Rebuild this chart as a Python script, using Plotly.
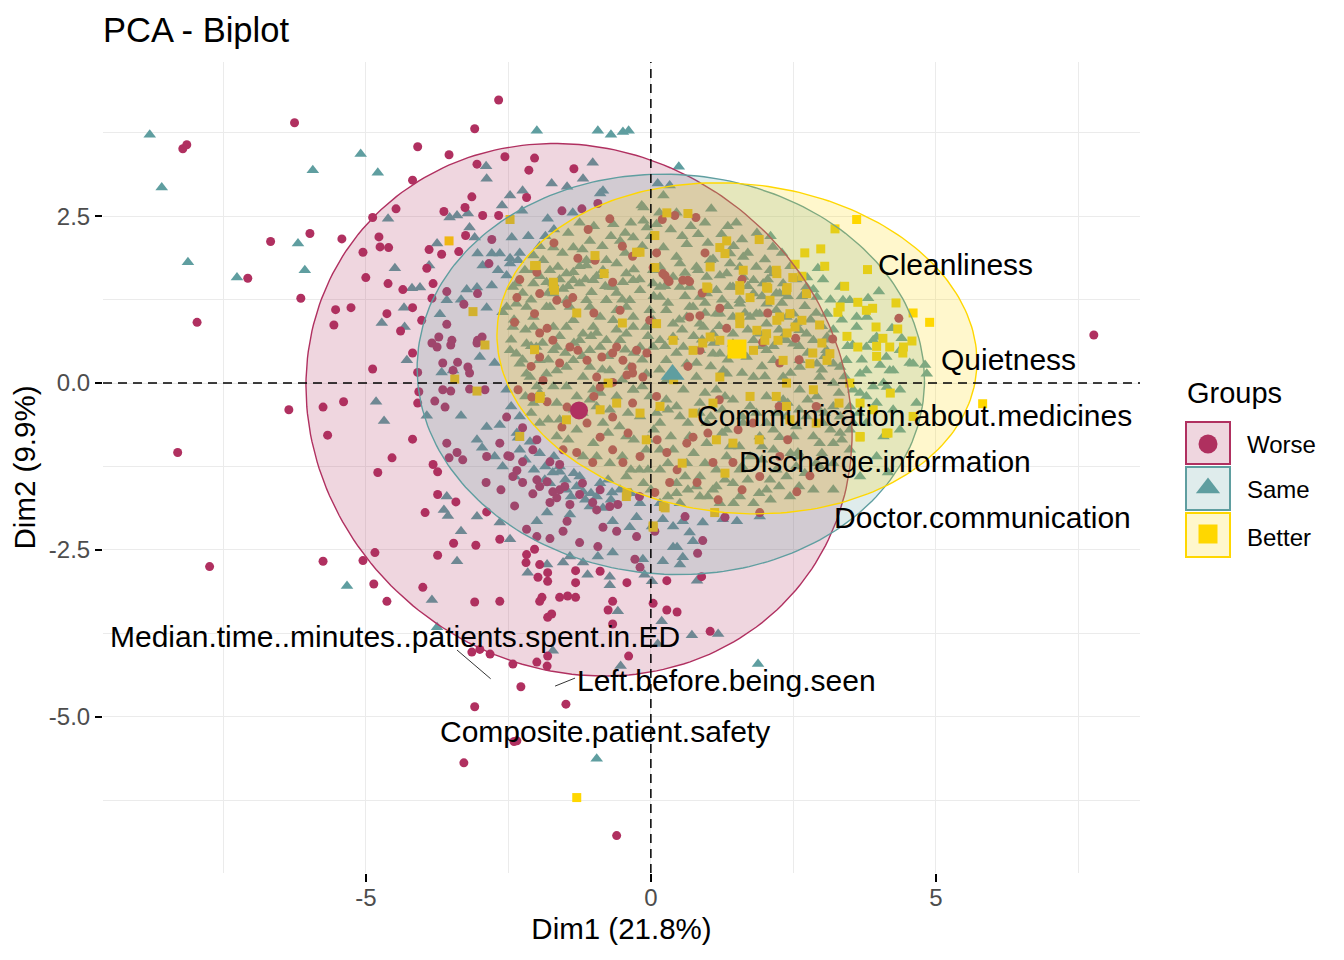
import numpy as np
import plotly.graph_objects as go

groups = ["Worse", "Same", "Better"]
colors = ["#B03060", "#5F9EA0", "#FFD700"]
fills = ["rgba(176,48,96,0.2)", "rgba(95,158,160,0.2)", "rgba(255,215,0,0.2)"]
symbols = ["circle", "triangle-up", "square"]

worse = [
    (-6.25, 3.90), (-8.21, 3.51), (-8.14, 3.57), (-2.67, 4.24), (-3.09, 3.81), (-4.09, 3.54), (-3.54, 3.42),
    (-2.56, 3.39), (-2.04, 3.37), (-3.05, 3.28), (-2.14, 3.19), (-4.18, 3.04), (-3.14, 2.79), (-4.47, 2.61),
    (-4.88, 2.48), (-3.63, 2.57), (-3.26, 2.63), (-2.95, 2.51), (-2.67, 2.51), (-2.18, 2.78), (-6.67, 2.12),
    (-5.98, 2.24), (-5.42, 2.16), (-4.77, 2.19), (-4.75, 2.04), (-4.60, 2.03), (-5.05, 1.96), (-3.25, 2.21),
    (-2.79, 2.15), (-3.89, 2.00), (-3.67, 1.93), (-3.37, 1.97), (-2.84, 1.79), (-7.07, 1.57), (-6.14, 1.27),
    (-7.96, 0.91), (-5.00, 1.58), (-4.61, 1.49), (-3.93, 1.72), (-3.82, 1.49), (-4.35, 1.40), (-3.58, 1.37),
    (-3.04, 1.34), (-3.28, 1.18), (-3.84, 1.27), (-5.53, 1.10), (-5.26, 1.13), (-5.56, 0.87), (-4.63, 1.04),
    (-4.18, 1.13), (-4.39, 0.78), (-4.02, 0.94), (-3.58, 0.88), (-3.72, 0.69), (-3.84, 0.60), (-3.75, 0.54),
    (-3.51, 0.57), (-3.49, 0.64), (-3.05, 0.60), (-3.04, 0.64), (-4.18, 0.45), (-4.88, 0.21), (-4.09, 0.16),
    (-3.65, 0.30), (-3.39, 0.31), (-3.21, 0.24), (-4.07, -0.13), (-3.65, -0.10), (-3.51, -0.12), (-3.18, -0.09),
    (-2.91, -0.10), (-6.35, -0.40), (-5.75, -0.36), (-5.39, -0.28), (-4.09, -0.30), (-3.79, -0.27), (-3.61, -0.36),
    (-5.67, -0.78), (-4.18, -0.84), (-2.53, -0.51), (-2.25, -0.67), (-2.65, -0.90), (-2.47, -1.10), (-2.25, -1.18),
    (-8.30, -1.04), (-4.54, -1.12), (-4.79, -1.34), (-3.58, -0.90), (-3.40, -1.04), (-3.30, -1.15), (-3.82, -1.22),
    (-3.74, -1.33), (-2.88, -1.10), (-3.54, -1.12), (-2.51, -1.09), (-2.35, -1.31), (-2.07, -1.00), (-1.77, -1.18),
    (-1.60, -1.22), (-2.89, -1.49), (-2.63, -1.60), (-2.39, -1.84), (-2.07, -1.66), (-2.00, -1.45), (-1.82, -1.48),
    (-1.72, -1.63), (-1.60, -1.60), (-1.65, -1.72), (-1.51, -1.55), (-1.42, -1.82), (-1.25, -1.67), (-0.89, -1.60),
    (-1.02, -1.79), (-0.58, -1.82), (-3.42, -1.78), (-3.96, -1.94), (-3.74, -1.67), (-2.88, -1.93), (-2.65, -2.34),
    (-3.07, -2.43), (-3.46, -2.40), (-3.74, -2.58), (-2.18, -2.19), (-2.00, -2.30), (-2.18, -2.57), (-2.04, -2.49),
    (-1.77, -2.33), (-1.54, -2.22), (-1.47, -2.07), (-1.25, -2.39), (-0.93, -2.45), (-0.84, -2.16), (-0.60, -2.22),
    (-0.25, -2.30), (0.07, -2.22), (0.91, -2.36), (0.82, -2.55), (1.30, -2.01), (-0.28, -2.64), (-0.19, -2.76),
    (-0.89, -2.82), (-1.32, -2.81), (-1.32, -2.99), (-0.42, -2.99), (0.28, -2.96), (0.89, -2.90), (-2.19, -2.69),
    (-1.98, -2.91), (-1.81, -2.97), (-1.95, -2.72), (-1.81, -2.84), (-5.75, -2.67), (-5.05, -2.66), (-4.84, -2.54),
    (-4.86, -3.01), (-4.63, -3.27), (-4.00, -3.06), (-3.09, -3.28), (-2.65, -3.27), (-1.95, -3.27), (-1.91, -3.21),
    (-1.60, -3.21), (-1.46, -3.19), (-1.32, -3.21), (-1.81, -3.51), (-1.74, -3.46), (-0.67, -3.27), (-0.75, -3.40),
    (-0.67, -3.61), (0.04, -3.30), (0.28, -3.40), (0.46, -3.43), (1.04, -3.72), (-0.39, -4.09), (-3.14, -4.03),
    (-3.00, -3.99), (-2.82, -4.06), (-2.42, -4.21), (-2.00, -4.18), (-1.82, -4.24), (-1.81, -4.09), (-2.28, -4.55),
    (-3.09, -4.85), (-1.49, -4.81), (-2.40, -5.37), (-2.35, -5.36), (-3.28, -5.69), (-0.60, -6.78), (7.77, 0.72),
    (-7.74, -2.75), (2.79, -1.39), (2.56, -1.63), (1.91, -1.94), (4.35, 0.97), (3.19, 0.66), (1.21, 1.12),
    (1.33, 0.82), (0.86, 1.01), (0.68, 0.99), (1.96, 0.61), (2.26, 0.30), (0.86, 0.49), (2.54, 0.67), (0.21, 1.64),
    (0.30, 1.54), (0.56, 1.54), (0.65, 1.54), (0.04, 1.73), (-0.02, 0.94), (0.42, 2.51), (0.79, 2.48),
    (-1.28, 1.87), (-0.98, 1.84), (-0.32, 1.90), (0.25, 1.61), (0.32, 1.52), (0.68, 1.52), (-2.39, 0.91),
    (-2.04, 1.04), (-1.82, 0.82), (-1.47, 1.19), (-1.95, 1.34), (-1.37, 1.28), (-1.72, 0.64), (-1.42, 0.54),
    (-1.12, 0.34), (-0.86, 0.39), (-0.67, 0.45), (-0.49, 0.34), (-0.33, 0.24), (-0.95, 0.09), (-0.67, 0.01),
    (-0.42, 0.12), (-0.25, 0.49), (-0.14, 0.09), (-2.33, -0.10), (-2.09, -0.21), (-1.82, -0.28), (-1.47, -0.36),
    (-1.56, -0.66), (-1.12, -0.60), (-0.89, -0.81), (-0.67, -0.51), (-0.32, -0.30), (-0.67, -1.00), (-0.49, -1.19),
    (-0.19, -1.10), (-1.02, -1.19), (-1.30, -1.04), (-1.54, -1.00), (0.11, -0.85), (0.28, -1.04), (0.46, -1.30),
    (0.63, -0.90), (0.74, -0.81), (1.09, -1.19), (1.53, -0.70), (1.79, -0.60), (1.44, -1.19), (1.91, -1.40),
    (2.26, -1.10), (1.18, -1.75), (0.81, -1.49), (0.33, -1.49), (0.07, -1.64), (-2.42, -1.40), (-2.25, -1.49),
    (-1.95, -1.55), (-1.77, -1.79), (-0.95, -1.90), (-0.72, -1.85), (-0.72, 2.46), (-0.93, 2.69), (-1.56, 2.58),
    (-1.21, 2.61), (-1.35, 3.21), (-0.67, 1.51), (-0.54, 1.09), (-1.28, 0.49), (-1.95, 0.75), (-1.95, 0.39),
    (-1.65, 1.24), (-1.89, 0.04), (-0.89, -0.06), (-0.32, 0.15), (-0.07, 0.45), (-0.60, 0.54), (-2.35, 1.28),
    (-2.00, 1.66), (-2.96, 0.69), (-3.47, 0.19), (-3.18, 0.15),
    (-0.50, 2.05), (0.10, 1.95), (0.95, 1.95), (1.60, 1.55), (2.05, 1.05), (2.60, 0.35), (2.90, -0.35),
    (2.40, -0.85), (1.20, -0.25), (0.40, 0.15), (0.10, -0.20), (-0.40, -0.75), (-1.00, -0.20), (-1.60, 0.30),
    (-2.10, 0.25), (-2.30, 1.55), (-1.70, 2.10), (-1.00, 1.05), (0.65, 0.25), (1.00, -0.75), (1.60, -1.60),
    (0.60, -2.00), (-0.20, -1.70), (-1.20, -1.50), (-2.00, -0.85), (-1.10, 2.30), (0.20, 2.45), (1.45, 0.45),
    (2.25, -0.35), (0.90, 1.35),
]

same = [
    (-8.79, 3.72), (-8.58, 2.93), (-5.93, 3.19), (-5.09, 3.43), (-4.79, 3.15), (-2.00, 3.78), (-2.89, 3.25),
    (-2.88, 3.06), (-4.61, 2.46), (-3.53, 2.48), (-3.40, 2.51), (-3.21, 2.54), (-2.26, 2.58), (-2.47, 2.81),
    (-2.25, 2.88), (-2.61, 2.66), (-6.19, 2.09), (-3.18, 2.33), (-3.09, 2.18), (-2.44, 2.18), (-3.75, 2.09),
    (-3.04, 1.94), (-2.79, 1.94), (-2.65, 1.94), (-2.47, 1.87), (-2.33, 1.84), (-2.95, 1.76), (-8.12, 1.81),
    (-7.26, 1.58), (-6.07, 1.69), (-4.49, 1.72), (-3.89, 1.76), (-4.19, 1.42), (-4.05, 1.43), (-3.58, 1.24),
    (-3.23, 1.40), (-3.33, 1.25), (-3.05, 1.43), (-2.79, 1.46), (-4.33, 1.13), (-4.72, 0.90), (-4.32, 0.84),
    (-3.70, 1.03), (-2.88, 1.13), (-3.00, 0.39), (-2.74, 0.30), (-2.60, 1.06), (-4.28, 0.34), (-3.67, 0.16),
    (-3.47, 0.19), (-4.82, -0.28), (-4.68, -0.57), (-3.93, -0.49), (-3.33, -0.49), (-2.88, -0.66), (-2.65, -0.63),
    (-3.05, -0.85), (-2.96, -0.97), (-2.33, -0.82), (-2.12, -0.88), (-2.60, -1.25), (-2.39, -1.40), (-2.74, -1.10),
    (-1.86, -1.45), (-1.72, -1.34), (-1.60, -1.33), (-1.30, -1.55), (-1.19, -1.63), (-0.95, -1.70), (-0.84, -1.87),
    (-0.68, -1.64), (-3.58, -1.70), (-3.63, -1.90), (-3.56, -1.99), (-3.05, -2.00), (-2.65, -2.09), (-2.47, -2.34),
    (-3.33, -2.22), (-3.40, -2.67), (-2.00, -2.07), (-1.82, -1.94), (-1.42, -1.97), (-1.07, -1.85), (-0.67, -2.07),
    (-0.37, -2.16), (-0.25, -2.01), (0.02, -2.15), (0.21, -2.04), (0.39, -2.15), (0.56, -2.07), (0.68, -2.24),
    (0.91, -2.09), (1.26, -2.04), (1.51, -2.07), (0.74, -2.37), (-1.42, -2.60), (-1.19, -2.69), (-0.93, -2.60),
    (-0.67, -2.54), (-1.11, -2.87), (-0.72, -2.90), (-0.14, -2.64), (0.21, -2.67), (0.46, -2.46), (0.56, -2.61),
    (0.81, -2.96), (-2.16, -2.84), (-1.82, -2.72), (-1.54, -2.69), (-0.72, -3.03), (-0.11, -2.87), (0.02, -2.97),
    (-5.33, -3.04), (-3.84, -3.25), (-3.75, -3.66), (-0.58, -3.42), (0.72, -3.78), (1.18, -3.76), (0.12, -3.91),
    (0.19, -3.57), (-1.72, -4.01), (-0.53, -4.24), (-0.95, -5.63), (1.88, -4.21), (0.51, -2.72), (1.91, -2.00),
    (0.39, -2.46), (4.14, -0.06), (3.67, -0.15), (4.16, -1.34), (2.96, -0.90), (3.32, -0.75), (2.58, -1.04),
    (2.26, -0.81), (2.09, -1.45), (0.49, 3.24), (0.12, 2.99), (0.33, 2.96), (1.86, 2.25), (2.14, 2.04),
    (2.93, 1.72), (3.02, 1.55), (2.74, 1.58), (4.00, 1.37), (3.37, 1.24), (3.49, 1.24), (3.81, 1.27), (3.61, 0.99),
    (3.79, 0.99), (3.09, 1.04), (4.23, 0.82), (4.40, 0.67), (4.02, 0.27), (4.54, 0.30), (4.81, 0.27), (3.54, 0.57),
    (3.09, 0.69), (-0.93, 3.78), (-0.70, 3.72), (-0.49, 3.76), (-0.39, 3.78), (-1.02, 3.30), (-1.19, 3.06),
    (-1.74, 2.99), (-1.47, 2.94), (-0.84, 2.88), (-2.68, 1.69), (-2.53, 1.61), (-1.37, 2.55), (-1.81, 2.46),
    (-0.89, 2.84), (-0.16, 2.66), (-0.07, 2.33),
    (-2.47, 1.79), (-2.21, 1.69), (-1.89, 1.84), (-1.63, 1.74), (-1.36, 1.66), (-1.13, 1.76), (-0.84, 1.69),
    (-0.60, 1.79), (-0.43, 1.64), (-1.83, 1.51), (-1.54, 1.41), (-1.25, 1.49), (-1.04, 1.36), (-0.72, 1.44),
    (-0.49, 1.51), (-0.19, 1.39), (0.04, 1.69), (0.51, 1.79), (0.80, 1.74), (1.09, 1.86), (1.39, 1.79),
    (1.62, 1.89), (1.85, 1.74), (2.15, 1.64), (2.32, 1.49), (0.86, 1.29), (1.15, 1.39), (1.44, 1.44), (1.80, 1.34),
    (2.03, 1.19), (2.38, 0.99), (2.61, 0.79), (2.85, 0.64), (3.08, 0.49), (0.63, 0.99), (0.86, 0.89), (1.09, 0.74),
    (1.44, 0.99), (1.74, 0.99), (2.03, 0.89), (2.32, 0.69), (2.61, 0.34), (2.91, 0.29), (3.20, 0.29), (3.43, 0.34),
    (3.78, 0.54), (3.96, 0.69), (4.13, 0.39), (4.37, 0.49), (4.60, 0.29), (4.84, 0.14), (-2.47, 0.49),
    (-2.18, 0.59), (-1.95, 0.34), (-1.65, 0.19), (-1.36, 0.34), (-1.19, 0.09), (-0.89, -0.15), (-0.60, -0.20),
    (-0.31, -0.10), (-0.02, -0.20), (0.27, -0.25), (0.57, -0.10), (0.86, -0.30), (1.15, -0.10), (1.44, -0.25),
    (1.74, -0.35), (2.03, -0.20), (2.32, -0.25), (2.61, -0.10), (2.91, -0.20), (3.20, -0.35), (3.55, -0.10),
    (3.78, -0.20), (-2.30, -0.50), (-1.95, -0.60), (-1.65, -0.80), (-1.30, -0.70), (-1.01, -0.90), (-0.72, -1.20),
    (-0.43, -1.40), (-0.13, -1.50), (0.16, -1.30), (0.45, -1.50), (0.63, -1.20), (0.86, -1.40), (1.15, -1.30),
    (1.44, -1.50), (1.74, -1.10), (1.91, -0.80), (2.15, -1.00), (2.50, -0.80), (2.85, -0.80), (3.20, -0.90),
    (3.49, -0.70), (3.20, -1.20), (2.85, -1.60), (2.38, -1.40), (2.03, -1.60), (1.56, -1.70), (1.21, -1.80),
    (0.86, -1.70), (0.51, -1.80), (0.16, -1.80), (-0.19, -1.80), (-0.54, -1.60), (-0.89, -1.50), (-1.25, -1.40),
    (-1.60, -1.25), (-1.95, -1.05), (-2.30, -1.00), (-2.53, -0.10), (-2.12, 0.09), (-1.48, -0.05), (-1.19, 0.74),
    (-0.89, 0.99), (-0.60, 1.09), (-0.31, 0.99), (-0.02, 1.09), (0.27, 1.09), (0.39, 0.69), (-2.06, 0.99),
    (-2.36, 1.19), (-1.77, 1.14), (-1.48, 0.84), (4.08, 0.00), (4.37, -0.10), (4.25, -0.40), (4.66, -0.30),
    (3.78, -0.60), (4.08, -0.80), (4.37, -0.70), (3.49, -1.00), (3.96, -1.10), (3.67, -1.40), (3.20, -1.60),
    (-2.36, 1.49), (-2.06, 1.69), (-1.71, 1.34), (-1.42, 1.14), (-1.07, 1.14), (-0.78, 1.24), (-0.37, 1.24),
    (-0.08, 0.84), (0.16, 1.44), (0.39, 1.59), (0.68, 1.44), (0.98, 1.59), (1.33, 1.64), (1.62, 1.59),
    (1.97, 1.49), (2.20, 1.34), (0.74, 1.14), (1.21, 1.04), (1.56, 1.19), (1.91, 1.04), (2.20, 1.09), (2.50, 0.59),
    (1.44, 0.59), (1.80, 0.64), (2.03, 0.49), (0.86, 0.49), (1.21, 0.44), (0.63, 0.29), (0.27, 0.34), (0.04, 0.54),
    (-0.43, 0.74), (-0.78, 0.64), (-1.07, 0.49), (-1.71, 0.49), (-2.30, 0.29), (-2.06, -0.30), (-1.71, -0.05),
    (-1.07, -0.25), (-0.72, -0.40), (-0.19, -0.50), (0.16, -0.60), (0.51, -0.50), (0.98, -0.60), (1.33, -0.70),
    (1.62, -0.60), (2.03, -0.60), (2.38, -0.50), (2.73, -0.50), (3.02, -0.60), (3.32, -0.50), (3.20, 0.00),
    (2.96, 0.09), (3.67, 0.14), (2.32, 0.09), (1.80, 0.09), (1.33, 0.14), (0.80, 0.09), (0.27, 0.04),
    (-0.08, -1.00), (-0.43, -0.80), (-0.84, -0.60), (-1.19, -1.10), (-1.48, -1.60), (-1.77, -1.50), (0.16, -1.00),
    (0.39, -1.00), (1.33, -1.10), (1.56, -1.30), (2.61, -1.10), (2.96, -1.25), (2.44, -1.70), (1.80, -1.80),
    (1.09, -1.60), (0.68, -0.80), (0.98, -0.90), (1.39, -0.95), (3.49, -0.35), (3.96, -0.30), (3.78, 0.19),
    (4.25, 0.19), (0.22, 2.81), (-0.13, 2.63), (0.83, 2.23), (1.24, 2.23), (0.63, 2.08), (0.22, 2.03),
    (0.45, 1.89), (1.04, 1.84), (1.39, 1.94), (0.16, 1.74), (0.83, 1.69), (1.21, 1.61), (1.56, 1.74), (0.51, 1.44),
    (0.98, 1.34), (1.39, 1.44), (1.80, 1.54), (0.16, 1.29), (0.68, 1.14), (1.15, 1.04), (1.56, 1.24), (1.85, 1.04),
    (2.26, 1.34), (2.50, 1.04), (0.39, 0.89), (0.92, 0.84), (1.44, 0.74), (1.91, 0.74), (2.38, 0.64), (2.73, 0.74),
    (0.16, 0.64), (0.57, 0.54), (1.09, 0.44), (1.68, 0.39), (2.15, 0.34), (2.61, 0.24), (1.27, 0.19), (3.32, 1.44),
    (3.61, 0.84), (3.90, 0.64), (3.32, 0.24), (4.19, 0.19), (2.91, 1.29), (3.08, 1.04), (2.73, 1.44), (2.09, 1.69),
    (0.10, 2.38), (1.06, 2.61), (-2.06, 1.91), (-1.77, 1.69), (-1.48, 1.64), (-1.13, 1.84), (-0.78, 1.84),
    (-0.54, 2.13), (-0.31, 2.18), (-2.42, 1.44), (-2.06, 1.49), (-1.71, 1.49), (-1.36, 1.54), (-1.01, 1.54),
    (-0.66, 1.44), (-0.31, 1.54), (-2.53, 1.14), (-2.18, 1.14), (-1.83, 1.14), (-1.48, 1.24), (-1.13, 1.24),
    (-0.78, 1.24), (-0.43, 1.14), (-2.42, 0.84), (-2.06, 0.84), (-1.71, 0.84), (-1.36, 0.94), (-1.01, 0.84),
    (-0.66, 0.94), (-0.31, 0.84), (-2.36, 0.44), (-2.01, 0.54), (-1.65, 0.54), (-1.25, 0.64), (-0.89, 0.54),
    (-0.54, 0.64), (-0.19, 0.54), (-2.18, 0.14), (-1.83, 0.14), (-1.48, 0.24), (-1.07, 0.24), (-0.72, 0.19),
    (-0.37, 0.24), (-0.08, 0.14), (-1.95, -0.15), (-1.01, -0.10), (-0.31, -0.10), (-0.66, 2.38), (-1.07, 2.13),
    (-1.36, 2.03), (-1.71, 2.03), (-0.13, 2.43), (0.04, 1.49), (0.04, 0.94),
    (-2.30, 1.95), (-1.95, 2.05), (-1.55, 1.95), (-1.20, 2.00), (-0.85, 2.05), (-0.45, 1.95), (-0.15, 2.05),
    (0.35, 2.30), (0.70, 2.35), (1.00, 2.10), (1.45, 2.05), (1.70, 1.95), (2.00, 1.85), (2.45, 1.75), (2.65, 1.30),
    (2.90, 1.05), (3.20, 0.80), (3.45, 0.55), (3.65, -0.45), (3.35, -0.85), (3.00, -1.05), (2.70, -1.35),
    (2.20, -1.30), (1.95, -1.15), (1.70, -1.45), (1.30, -1.45), (0.95, -1.20), (0.65, -1.60), (0.30, -1.70),
    (-0.05, -1.30), (-0.35, -1.65), (-0.70, -1.75), (-1.05, -1.65), (-1.40, -1.70), (-1.70, -1.10), (-2.05, -1.30),
    (-2.35, -0.75), (-2.10, -0.45), (-1.80, -0.55), (-1.45, -0.85), (-1.20, -0.45), (-0.95, -0.35), (-0.55, -0.65),
    (-0.30, -0.85), (0.05, -0.70), (0.35, -0.80), (0.75, -1.05), (1.05, -0.50), (1.25, -0.40), (1.55, -0.95),
    (1.85, -0.45), (2.15, -0.70), (2.45, -1.05), (2.75, -0.25), (3.05, -0.45), (3.40, 0.10), (3.05, 0.40),
    (2.75, 0.45), (2.45, 0.15), (2.15, 0.55), (1.95, 0.25), (1.60, 0.15), (1.35, 0.35), (1.05, 0.25), (0.75, 0.70),
    (0.45, 0.45), (0.15, 0.20), (-0.15, 0.35), (-0.45, 0.50), (-0.75, 0.40), (-1.05, 0.70), (-1.35, 0.60),
    (-1.60, 0.70), (-1.90, 0.60), (-2.20, 0.80), (-2.45, 0.65), (-2.25, 1.35), (-1.95, 1.60), (-1.60, 1.55),
    (-1.25, 1.75), (-0.95, 1.60), (-0.60, 1.35), (-0.30, 1.70), (0.05, 1.30), (0.30, 1.20), (0.60, 1.65),
    (0.95, 1.05), (1.25, 1.25), (1.65, 1.05), (1.95, 1.30), (2.30, 1.20), (2.55, 0.90), (2.80, 0.95), (3.10, 0.65),
    (0.50, 0.95), (0.80, 0.30), (1.10, 0.60), (1.70, 0.80), (2.00, 0.10), (2.40, -0.30), (2.55, -0.65),
    (1.25, -0.75), (0.85, -0.45), (0.45, -0.35), (0.10, -0.45), (-0.15, -0.05), (-0.50, 0.05), (-0.85, 0.20),
    (-1.30, -0.20), (-1.65, -0.30), (-2.00, -0.05), (-2.25, 0.35), (-0.50, -1.10), (-0.95, -1.10), (-1.35, -1.35),
    (-0.20, -1.30), (0.30, -1.20), (0.60, -1.40), (1.00, -1.70), (1.45, -1.80), (2.10, -1.75), (2.60, -1.55),
    (-0.70, 2.20), (-0.35, 2.40), (0.45, 2.55), (0.00, 2.20), (-1.00, 2.35), (-1.45, 2.25), (-1.85, 2.20),
    (-2.15, 2.20), (-1.70, 2.30), (-1.25, 2.40), (-0.45, 2.25), (0.15, 2.55), (0.55, 2.20), (0.95, 2.40),
    (1.35, 2.35), (1.60, 2.15), (2.30, 1.95), (2.55, 1.55), (2.85, 1.40), (3.15, 1.25), (3.35, 0.95), (3.70, 0.35),
    (3.90, -0.05), (3.55, -0.60), (3.15, -0.70), (2.90, -1.20), (2.55, -1.25), (2.25, -1.55), (1.90, -1.65),
    (1.60, -1.25), (1.15, -1.55), (0.80, -1.55), (0.45, -1.65), (0.00, -1.60), (-0.35, -1.30), (-0.75, -1.45),
    (-1.15, -1.75), (-1.50, -1.45), (-1.85, -1.25), (-2.20, -1.15), (-2.45, -0.35), (-2.20, -0.20), (-1.60, -0.55),
    (-1.35, -0.40), (-0.75, -0.75), (-0.40, -0.45), (-0.05, -0.85), (0.30, -0.40), (0.65, -0.60), (0.95, -0.15),
    (1.30, -0.20), (1.60, -0.50), (1.95, -0.95), (2.20, -0.45), (2.60, -0.40), (2.95, -0.40), (3.30, -0.15),
    (3.00, 0.20), (2.60, 0.55), (2.25, 0.80), (1.95, 0.55), (1.55, 0.55), (1.20, 0.85), (0.90, 0.65), (0.55, 0.80),
    (0.25, 0.55), (-0.05, 0.70), (-0.30, 0.45), (-0.60, 0.80), (-0.95, 0.75), (-1.20, 0.40), (-1.50, 0.45),
    (-1.80, 0.35), (-2.10, 0.55), (-2.40, 0.95), (-2.10, 1.25), (-1.80, 1.35), (-1.45, 1.45), (-1.15, 1.55),
    (-0.80, 1.45), (-0.50, 1.25), (-0.20, 1.55), (0.25, 1.45), (0.60, 1.30), (0.95, 1.20), (1.35, 1.15),
    (1.70, 1.45), (2.05, 1.55), (2.40, 1.30), (2.70, 1.15), (3.00, 0.85), (1.50, 2.40), (2.10, 2.20),
]

better = [
    (-3.54, 2.13), (-2.47, 2.45), (-3.12, 1.07), (-2.91, 0.57), (-3.44, 0.06), (-3.05, -0.12), (-1.30, -6.21),
    (5.82, -0.31), (3.67, -0.81), (4.16, -0.75), (3.61, 2.45), (3.23, 2.31), (2.98, 2.01), (2.53, 1.78),
    (2.21, 1.64), (2.49, 1.58), (3.63, 1.21), (3.89, 1.12), (3.28, 1.06), (4.89, 0.91), (3.95, 0.84), (4.33, 0.81),
    (4.07, 0.67), (4.58, 0.63), (3.44, 0.70), (3.63, 0.54), (3.96, 0.55), (4.19, 0.54), (4.42, 0.45), (3.96, 0.40),
    (2.96, 0.87), (2.84, 0.45), (3.09, 0.34), (0.28, 2.55), (0.65, 2.54), (1.33, 2.13), (1.21, 2.03), (1.30, 1.94),
    (1.00, 1.42), (1.56, 1.46), (1.74, 1.28), (2.05, 1.42), (2.39, 1.43), (2.09, 1.24), (2.44, 1.04), (2.21, 0.94),
    (2.53, 0.84), (2.00, 0.64), (2.23, 0.64), (3.00, 0.60), (1.56, 0.99), (1.04, 0.69), (1.21, 0.64), (0.91, 0.60),
    (1.86, 0.79), (2.65, 0.94), (2.39, 0.75), (0.07, 2.21), (-0.19, 1.96), (0.07, 1.73), (-2.04, 1.76),
    (-1.71, 1.51), (-1.69, 1.39), (-0.98, 1.91), (-0.82, 1.64), (-0.25, 1.96), (-2.04, 0.50), (-0.75, 0.00),
    (-1.94, -0.20), (-2.01, 1.76), (-1.71, 1.44), (-1.95, -0.23), (-0.19, -0.45), (-0.08, -0.85),
    (-0.43, -1.70), (0.04, -2.14), (0.22, -1.85), (0.10, 0.89), (0.39, 0.64), (0.74, 0.49), (0.74, -0.45),
    (1.09, -0.30), (1.21, 0.09), (1.56, 0.89), (1.80, 0.49), (2.03, 0.74), (2.26, 0.99), (2.32, 0.34),
    (2.38, 0.00), (2.79, 0.29), (1.74, -0.20), (1.44, -0.90), (1.15, -0.85), (2.20, -0.20), (2.38, -0.35),
    (2.85, -0.10), (3.14, 0.44), (3.49, 0.00), (3.67, -0.30), (4.13, -0.75), (3.67, -0.80), (4.43, 0.54),
    (3.78, 1.09), (3.32, 1.14), (2.73, 1.34), (2.38, 1.39), (2.03, 1.44), (1.56, 1.39), (0.98, 1.44), (1.04, 1.74),
    (1.62, 1.69), (2.20, 1.69), (0.16, -0.35), (-0.89, -0.40), (-1.48, -0.55), (-2.30, -0.80), (-0.42, -1.64),
    (0.25, -1.87), (0.04, -2.16), (1.12, -1.94), (2.44, -0.55),
    (1.90, 2.15), (2.70, 1.95), (3.05, 1.75), (3.40, 1.45), (3.80, 1.70), (4.30, 1.20), (4.60, 1.05),
    (4.20, -0.15), (4.60, -0.50), (3.90, -0.40), (3.30, -0.30), (2.90, -0.60), (1.90, -0.85), (1.30, -1.35),
    (0.55, -1.20), (0.40, 0.05), (-0.50, 0.90), (-1.30, 1.05), (-0.60, -0.30), (2.65, 1.60),
]

worse_x = [p[0] for p in worse]
worse_y = [p[1] for p in worse]
same_x = [p[0] for p in same]
same_y = [p[1] for p in same]
better_x = [p[0] for p in better]
better_y = [p[1] for p in better]

mean_x = [-1.26, 0.38, 1.51]
mean_y = [-0.41, 0.13, 0.51]

# confidence ellipses: centre, half width, half height, correlation
ell_cx = [-1.26, 0.35, 1.51]
ell_cy = [-0.40, 0.13, 0.52]
ell_sx = [4.79, 4.45, 4.21]
ell_sy = [3.99, 3.00, 2.48]
ell_r = [-0.09, -0.03, -0.08]

var_names = ["Cleanliness", "Quietness", "Communication.about.medicines", "Discharge.information",
             "Doctor.communication", "Median.time..minutes..patients.spent.in.ED", "Left.before.being.seen",
             "Composite.patient.safety"]
var_lab_x = [5.35, 6.28, 4.63, 4.11, 5.82, -4.49, 1.32, -0.81]
var_lab_y = [1.78, 0.36, -0.49, -1.18, -2.01, -3.80, -4.45, -5.22]
seg_x0 = [-3.40, -1.68]
seg_y0 = [-4.00, -4.54]
seg_x1 = [-2.81, -1.33]
seg_y1 = [-4.43, -4.42]

FONT = "Liberation Sans, Arial, sans-serif"
fig = go.Figure()

point_sizes = [9, 11, 9]
pts = {"Worse": (worse_x, worse_y), "Same": (same_x, same_y), "Better": (better_x, better_y)}
for i in [1, 0, 2]:
    g = groups[i]
    fig.add_trace(go.Scatter(x=pts[g][0], y=pts[g][1], mode="markers", name=g, showlegend=False,
                             marker=dict(symbol=symbols[i], size=point_sizes[i], color=colors[i],
                                         line=dict(width=0))))

t = np.linspace(0, 2 * np.pi, 241)
for i, g in enumerate(groups):
    ex = ell_cx[i] + ell_sx[i] * np.cos(t)
    ey = ell_cy[i] + ell_sy[i] * (ell_r[i] * np.cos(t) + np.sqrt(1 - ell_r[i] ** 2) * np.sin(t))
    fig.add_trace(go.Scatter(x=ex, y=ey, mode="lines", fill="toself", fillcolor=fills[i],
                             line=dict(color=colors[i], width=1.4), showlegend=False, hoverinfo="skip"))

mean_sizes = [18, 21, 19]
for i, g in enumerate(groups):
    fig.add_trace(go.Scatter(x=[mean_x[i]], y=[mean_y[i]], mode="markers", showlegend=False,
                             marker=dict(symbol=symbols[i], size=mean_sizes[i], color=colors[i],
                                         line=dict(width=0))))

for name, lx, ly in zip(var_names, var_lab_x, var_lab_y):
    fig.add_annotation(x=lx, y=ly, text=name, showarrow=False, xref="x", yref="y",
                       font=dict(family=FONT, size=30, color="black"))

for a, b, c, d in zip(seg_x0, seg_y0, seg_x1, seg_y1):
    fig.add_shape(type="line", x0=a, y0=b, x1=c, y1=d, xref="x", yref="y",
                  line=dict(color="black", width=0.8), layer="above")

fig.add_shape(type="line", x0=0, x1=0, y0=0, y1=1, xref="x", yref="y domain",
              line=dict(color="black", width=1.5, dash="9px,6px"), layer="above")
fig.add_shape(type="line", x0=0, x1=1, y0=0, y1=0, xref="x domain", yref="y",
              line=dict(color="black", width=1.5, dash="9px,6px"), layer="above")

# legend drawn by hand on a pixel-scaled helper axis
key_y0 = [422, 467, 513]
key_y1 = [464, 510, 557]
key_marker_y = [444, 488, 534]
key_label_y = [444, 489, 537]
legend_marker_sizes = [19, 21, 19]
for i, g in enumerate(groups):
    fig.add_shape(type="rect", x0=1186, x1=1230, y0=key_y0[i], y1=key_y1[i], xref="x2", yref="y2",
                  fillcolor=fills[i], line=dict(color=colors[i], width=2))
    fig.add_trace(go.Scatter(x=[1208], y=[key_marker_y[i]], xaxis="x2", yaxis="y2", mode="markers",
                             showlegend=False, hoverinfo="skip",
                             marker=dict(symbol=symbols[i], size=legend_marker_sizes[i], color=colors[i])))
    fig.add_annotation(x=1245, y=key_label_y[i], xref="x2", yref="y2", text=g, showarrow=False,
                       xanchor="left", font=dict(family=FONT, size=24, color="black"))
fig.add_annotation(x=1185, y=393, xref="x2", yref="y2", text="Groups", showarrow=False,
                   xanchor="left", font=dict(family=FONT, size=29, color="black"))

fig.update_layout(
    width=1344, height=960,
    margin=dict(l=103, r=20, t=62, b=87),
    paper_bgcolor="white", plot_bgcolor="white",
    font=dict(family=FONT),
    title=dict(text="PCA - Biplot", x=0, xref="paper", xanchor="left", y=1 - 30 / 960, yanchor="middle",
               font=dict(family=FONT, size=34.5, color="black")),
    xaxis=dict(domain=[0, 1037 / 1221], range=[-9.61, 8.58], tickvals=[-5, 0, 5], ticktext=["-5", "0", "5"],
               showgrid=True, gridcolor="#EBEBEB", gridwidth=1.3, zeroline=False, showline=False,
               ticks="outside", ticklen=8, tickwidth=1.5, tickcolor="black", ticklabelstandoff=-5,
               tickfont=dict(family=FONT, size=24, color="#4D4D4D"),
               minor=dict(tickvals=[-7.5, -2.5, 2.5, 7.5], showgrid=True, gridcolor="#EBEBEB", gridwidth=0.7,
                          ticks=""),
               title=dict(text="Dim1 (21.8%)", standoff=8, font=dict(family=FONT, size=29.5, color="black"))),
    yaxis=dict(range=[-7.34, 4.81], tickvals=[-5, -2.5, 0, 2.5], ticktext=["-5.0", "-2.5", "0.0", "2.5"],
               showgrid=True, gridcolor="#EBEBEB", gridwidth=1.3, zeroline=False, showline=False,
               ticks="outside", ticklen=7, tickwidth=1.5, tickcolor="black",
               tickfont=dict(family=FONT, size=24, color="#4D4D4D"),
               minor=dict(tickvals=[-6.25, -3.75, -1.25, 1.25, 3.75], showgrid=True, gridcolor="#EBEBEB",
                          gridwidth=0.7, ticks=""),
               title=dict(text="Dim2 (9.9%)", standoff=4, font=dict(family=FONT, size=29.5, color="black"))),
    xaxis2=dict(domain=[1075 / 1221, 1], range=[1178, 1324], visible=False, anchor="y2"),
    yaxis2=dict(domain=[0, 1], range=[873, 62], visible=False, anchor="x2"),
    showlegend=False,
)

fig.write_html("out.html", config={"displayModeBar": False},
               post_script="document.body.style.margin='0px';")
